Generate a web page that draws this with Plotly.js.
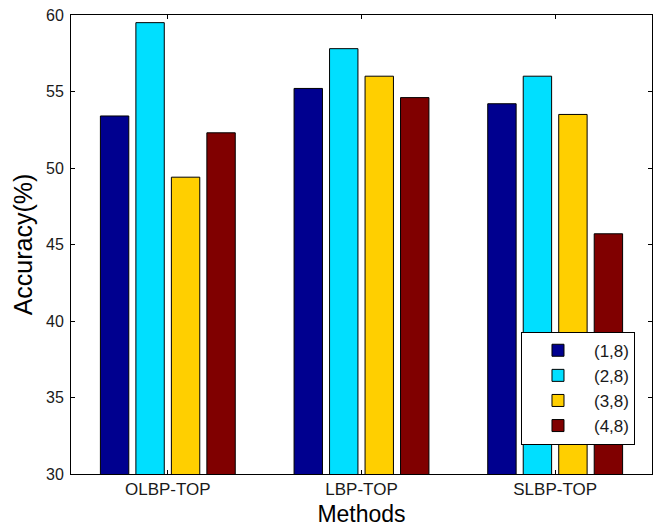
<!DOCTYPE html>
<html>
<head>
<meta charset="utf-8">
<script src="https://cdn.plot.ly/plotly-3.0.1.min.js"></script>
<style>html,body{margin:0;padding:0;background:#fff;}#chart{width:657px;height:527px;}</style>
</head>
<body>
<div id="chart"></div>
<script>
const methods = ['OLBP-TOP', 'LBP-TOP', 'SLBP-TOP'];
const seriesNames = ['(1,8)', '(2,8)', '(3,8)', '(4,8)'];
const s18 = [53.4, 55.2, 54.2];
const s28 = [59.5, 57.8, 56.0];
const s38 = [49.4, 56.0, 53.5];
const s48 = [52.3, 54.6, 45.7];
const seriesValues = [s18, s28, s38, s48];
const colors = ['#00008F', '#00DFFF', '#FFCF00', '#800000'];

const traces = seriesValues.map((vals, i) => ({
  type: 'bar',
  name: seriesNames[i],
  x: methods,
  y: vals,
  marker: {color: colors[i], line: {color: '#000000', width: 1}},
  hoverinfo: 'x+y+name'
}));

const font = 'Liberation Sans, Arial, sans-serif';
const layout = {
  width: 657, height: 527,
  margin: {l: 71, r: 5, t: 15, b: 53},
  paper_bgcolor: '#ffffff', plot_bgcolor: '#ffffff',
  barmode: 'group',
  bargap: 0.267,
  bargroupgap: 0.2,
  font: {family: font, color: '#000000'},
  xaxis: {
    type: 'category',
    showline: true, linecolor: '#000000', linewidth: 1, mirror: 'ticks',
    ticks: 'inside', ticklen: 4, tickcolor: '#000000',
    tickfont: {family: font, size: 17, color: '#1a1a1a'},
    title: {text: 'Methods', font: {family: font, size: 23, color: '#000000'}, standoff: 9},
    showgrid: false, zeroline: false
  },
  yaxis: {
    range: [30, 60], dtick: 5, tick0: 30,
    showline: true, linecolor: '#000000', linewidth: 1, mirror: 'ticks',
    ticks: 'inside', ticklen: 4, tickcolor: '#000000',
    tickfont: {family: font, size: 16, color: '#1a1a1a'},
    ticklabelstandoff: 3,
    title: {text: 'Accuracy(%)', font: {family: font, size: 25, color: '#000000'}, standoff: 6},
    showgrid: false, zeroline: false
  },
  legend: {
    x: 0.7745, y: 0.31, xanchor: 'left', yanchor: 'top',
    bgcolor: '#ffffff', bordercolor: '#000000', borderwidth: 1,
    font: {family: font, size: 17, color: '#1a1a1a'},
    itemwidth: 62, tracegroupgap: 0
  },
  showlegend: true
};

Plotly.newPlot('chart', traces, layout, {displayModeBar: false, staticPlot: true});
</script>
</body>
</html>
